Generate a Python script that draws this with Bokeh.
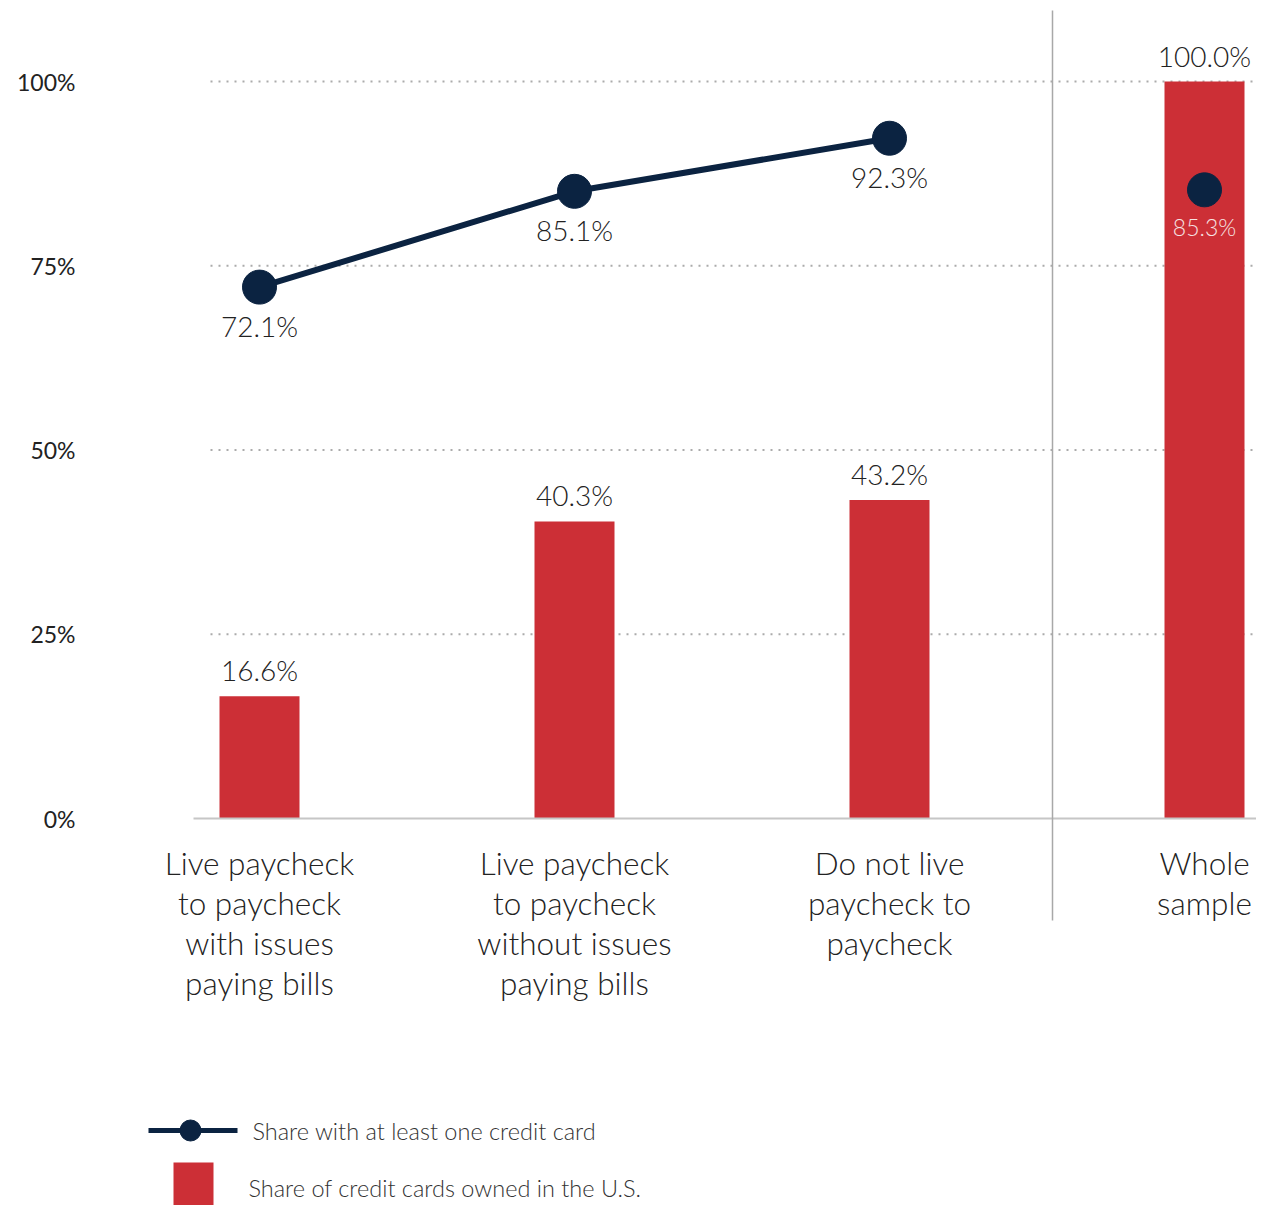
from bokeh.plotting import figure
from bokeh.models import Range1d, FixedTicker
from bokeh.core.properties import value
from bokeh.embed import file_html
from bokeh.resources import INLINE

# ---------------- data ----------------
category_lines = [
    ["Live paycheck", "to paycheck", "with issues", "paying bills"],
    ["Live paycheck", "to paycheck", "without issues", "paying bills"],
    ["Do not live", "paycheck to", "paycheck"],
    ["Whole", "sample"],
]
share_of_cards_owned = [16.6, 40.3, 43.2, 100.0]
share_with_card = [72.1, 85.1, 92.3, 85.3]
y_ticks = [0, 25, 50, 75, 100]
y_tick_labels = ["0%", "25%", "50%", "75%", "100%"]
legend_labels = ["Share with at least one credit card",
                 "Share of credit cards owned in the U.S."]

# ---------------- styling / geometry ----------------
FONT = "Lato Light"
TICK_FONT = "Lato"
TEXT = "#222222"
RED = "#CC2F36"
NAVY = "#0B2341"
W, H = 1256, 1205
FRAME_LEFT = 85          # px
X0_PX = 259              # px of first category centre
X_STEP = 315             # px between categories
Y0_PX = 818              # px of 0 %
Y_SCALE = 7.37           # px per percentage point

x_start = (FRAME_LEFT - X0_PX) / X_STEP
x_end = (W - X0_PX) / X_STEP
y_end = Y0_PX / Y_SCALE
y_start = -(H - Y0_PX) / Y_SCALE


def dx(sx):  # screen x -> data x
    return (sx - X0_PX) / X_STEP


def dy(sy):  # screen y -> data y
    return (Y0_PX - sy) / Y_SCALE


xs = list(range(len(category_lines)))

p = figure(width=W, height=H, x_range=Range1d(x_start, x_end),
           y_range=Range1d(y_start, y_end), output_backend="svg",
           toolbar_location=None, x_axis_location=None,
           min_border_left=FRAME_LEFT, min_border_right=0,
           min_border_top=0, min_border_bottom=0)
p.outline_line_color = None
p.xgrid.visible = False
p.ygrid.visible = False
p.background_fill_color = "white"

ax = p.yaxis[0]
ax.ticker = FixedTicker(ticks=y_ticks)
ax.major_label_overrides = {t: l for t, l in zip(y_ticks, y_tick_labels)}
ax.axis_line_color = None
ax.major_tick_line_color = None
ax.minor_tick_line_color = None
ax.major_label_standoff = 4
ax.major_label_text_font = TICK_FONT
ax.major_label_text_font_size = "23px"
ax.major_label_text_color = TEXT

# grid lines (dotted), starting a bit right of frame
grid_vals = [t for t in y_ticks if t > 0]
p.segment(x0=[dx(210)] * len(grid_vals), x1=[x_end] * len(grid_vals),
          y0=grid_vals, y1=grid_vals, line_color="#ababab",
          line_width=2, line_dash="2 6")

# bars
p.vbar(x=xs, top=share_of_cards_owned, bottom=0, width=80 / X_STEP,
       fill_color=RED, line_color=None)

# baseline
p.segment(x0=[dx(193)], x1=[x_end], y0=[0], y1=[0],
          line_color="#c6c6c6", line_width=2)

# separator
p.segment(x0=[dx(1052)], x1=[dx(1052)], y0=[dy(10)], y1=[dy(920)],
          line_color="#a8a8a8", line_width=1.5)

# line + points
p.line(xs[:3], share_with_card[:3], line_color=NAVY, line_width=6)
p.scatter(xs, share_with_card, size=34, fill_color=NAVY, line_color=NAVY)

# bar labels
p.text(x=xs, y=[v + 9 / Y_SCALE for v in share_of_cards_owned],
       text=[f"{v:.1f}%" for v in share_of_cards_owned],
       text_align="center", text_baseline="bottom",
       text_font=value(FONT), text_font_size="28px", text_color=TEXT)

# point labels
p.text(x=xs[:3], y=[v - 39 / Y_SCALE for v in share_with_card[:3]],
       text=[f"{v:.1f}%" for v in share_with_card[:3]],
       text_align="center", text_baseline="middle",
       text_font=value(FONT), text_font_size="28px", text_color=TEXT)
p.text(x=xs[3:], y=[v - 37 / Y_SCALE for v in share_with_card[3:]],
       text=[f"{v:.1f}%" for v in share_with_card[3:]],
       text_align="center", text_baseline="middle",
       text_font=value(FONT), text_font_size="23px", text_color="#f6e2e2")

# category labels
lx, ly, lt = [], [], []
for i, lines in enumerate(category_lines):
    for j, line in enumerate(lines):
        lx.append(xs[i])
        ly.append(dy(862 + 40 * j))
        lt.append(line)
p.text(x=lx, y=ly, text=lt, text_align="center", text_baseline="middle",
       text_font=value(FONT), text_font_size="31.5px", text_color=TEXT)

# legend (manual)
p.line([dx(148), dx(237)], [dy(1130), dy(1130)], line_color=NAVY, line_width=5)
p.scatter([dx(190)], [dy(1130)], size=21, fill_color=NAVY, line_color=NAVY)
p.quad(left=[dx(173)], right=[dx(213)], top=[dy(1162)], bottom=[dy(1212)],
       fill_color=RED, line_color=None)
p.text(x=[dx(252), dx(248)], y=[dy(1130), dy(1187)], text=legend_labels,
       text_align="left", text_baseline="middle",
       text_font=value(FONT), text_font_size="23.5px", text_color="#333333")

open("out.html", "w").write(file_html(p, INLINE))
